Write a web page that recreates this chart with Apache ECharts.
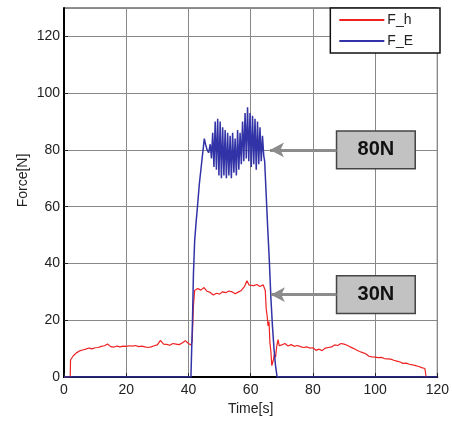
<!DOCTYPE html>
<html><head><meta charset="utf-8">
<script src="https://cdn.jsdelivr.net/npm/echarts@6/dist/echarts.min.js"></script>
<style>html,body{margin:0;padding:0;background:#fff}#c{width:452px;height:421px}</style>
</head><body><div id="c"></div>
<script>
// ---- data ----
const seriesNames = ['F_h', 'F_E'];
const xTicks = [0, 20, 40, 60, 80, 100, 120];
const yTicks = [0, 20, 40, 60, 80, 100, 120];

const fhTime = [0,2.0,2.1,3,4,5,6,7,8,9,10,11,12,13,14,15,16,17,18,19,20,21,22,23,24,25,26,27,28,29,30,31,32,33,34,35,36,37,38,39,40,40.8,41.2,41.6,42.0,43,44,45,46,47,48,49,50,51,52,53,54,55,56,57,58,58.8,59.5,60,61,62,63,64,64.7,65.0,65.3,65.6,65.9,66.2,66.5,66.8,67.0,67.3,67.6,68.0,68.4,68.8,69.2,70,71,72,73,74,75,76,77,78,79,80,81,82,83,84,85,86,87,88,89,90,91,92,93,94,95,96,97,98,99,100,101,102,103,104,105,106,107,108,109,110,111,112,113,114,115,116,116.4];
const fhValue = [0,0,6,7.5,8.5,9.2,9.5,9.8,10.2,9.9,10.3,10.4,10.8,11.0,11.6,10.7,10.5,10.9,10.6,10.9,10.8,11.0,10.9,11.1,10.7,10.9,10.6,10.4,10.6,11.0,11.3,12.9,11.6,11.5,11.2,11.8,11.6,11.4,12.0,12.8,11.8,11.3,12.5,25,30.5,31.2,30.6,31.5,30.2,29.8,28.9,29.5,29.2,30.0,29.7,30.3,30.0,29.3,29.9,30.5,31.8,33.9,32.4,33.0,32.2,32.6,31.9,32.5,30.5,24,21.5,18,19.5,12,9,4,3.5,6,8,7,11,13.2,11,11.3,11.8,10.9,11.4,10.8,11.1,10.7,10.4,10.6,10.2,10.3,9.4,9.8,9.3,10.2,10.4,10.6,11.3,11.1,11.8,11.6,11.2,10.6,10.1,9.5,9.0,8.6,8.2,7.3,7.1,7.0,6.8,6.9,6.5,6.4,6.3,5.9,5.6,5.3,4.8,4.9,4.5,4.3,4.0,3.7,3.3,3.0,0];

const feTime = [0,40.8,41.3,41.6,42.0,42.5,42.9,43.5,44.0,44.3,44.7,45.1,45.5,46.0,46.5,47.0,47.4,47.8,48.2,48.6,49.0,49.4,49.8,50.2,50.6,51.0,51.4,51.8,52.2,52.6,53.0,53.4,53.8,54.2,54.6,55.0,55.4,55.8,56.2,56.6,57.0,57.4,57.8,58.2,58.6,59.0,59.4,59.8,60.2,60.6,61.0,61.4,61.8,62.2,62.6,63.0,63.4,63.8,64.2,64.5,65.0,65.5,66.0,66.5,67.0,67.5,68.0,68.5,120];
const feValue = [0,0,20,36,48,55,60,68,73,76,80,84,82,80,79,82,77,86,74,90,73,91,71,90,70,88,71,87,70,86,71,85,70,86,72,84,71,87,73,86,75,90,76,93,77,95,76,93,74,92,75,91,73,90,75,88,76,85,78,76,64,52,41,28,18,10,4,0,0];

const annoLabels = ['80N', '30N'];
const annoValues = [80, 29];
const annoTipTime = [66.2, 66.5];

// ---- build ----
const pairs = (t, v) => t.map((x, i) => [x, v[i]]);
const boxLeft = 87.6, boxRight = 112.9, boxHalf = 6.65;

const chart = echarts.init(document.getElementById('c'), null, {renderer: 'canvas'});
const font = 'Liberation Sans, Arial, sans-serif';

chart.setOption({
  animation: false,
  backgroundColor: '#fff',
  grid: {left: 64, right: 12, top: 8, bottom: 41, show: true, borderColor: '#222', borderWidth: 1},
  legend: {
    orient: 'vertical', right: 12, top: 8,
    data: seriesNames,
    itemWidth: 45, itemHeight: 14, itemGap: 7,
    padding: [5, 27, 5, 8],
    itemStyle: {opacity: 0},
    backgroundColor: '#fff', borderColor: '#111', borderWidth: 1.5,
    textStyle: {fontFamily: font, fontSize: 14, color: '#222', padding: [0, 0, 0, -2]}
  },
  xAxis: {
    type: 'value', min: xTicks[0], max: xTicks[xTicks.length - 1], interval: 20,
    name: 'Time[s]', nameLocation: 'middle', nameGap: 25,
    nameTextStyle: {fontFamily: font, fontSize: 14, color: '#222'},
    axisLine: {show: true, onZero: false, lineStyle: {color: '#000', width: 2}},
    axisTick: {show: true, inside: true, length: 4, lineStyle: {color: '#222'}},
    axisLabel: {fontFamily: font, fontSize: 14, color: '#222', margin: 6},
    splitLine: {show: true, lineStyle: {color: '#888', width: 1}}
  },
  yAxis: {
    type: 'value', min: 0, max: 130, interval: 20,
    name: 'Force[N]', nameLocation: 'middle', nameGap: 34, nameMoveOverlap: false,
    nameTextStyle: {fontFamily: font, fontSize: 14, color: '#222', padding: [0, 0, 0, 24]},
    axisLine: {show: true, onZero: false, lineStyle: {color: '#000', width: 2}},
    axisTick: {show: true, inside: true, length: 4, lineStyle: {color: '#222'}},
    axisLabel: {fontFamily: font, fontSize: 14, color: '#222', margin: 4, showMaxLabel: false,
      formatter: v => (yTicks.indexOf(v) >= 0 ? String(v) : '')},
    splitLine: {show: true, lineStyle: {color: '#888', width: 1}}
  },
  series: [
    {
      name: seriesNames[0], type: 'line', symbol: 'none', data: pairs(fhTime, fhValue),
      lineStyle: {color: '#ee2222', width: 1.2}, itemStyle: {color: '#ee2222'}, z: 3
    },
    {
      name: seriesNames[1], type: 'line', symbol: 'none', data: pairs(feTime, feValue),
      lineStyle: {color: '#3333a8', width: 1.5}, itemStyle: {color: '#3333a8'}, z: 4,
      markLine: {
        silent: true, symbol: ['arrow', 'none'], symbolSize: [11, 14],
        lineStyle: {color: '#8c8c8c', width: 3, type: 'solid'},
        label: {show: false},
        data: annoValues.map((v, i) => [{coord: [annoTipTime[i], v]}, {coord: [boxLeft, v]}])
      },
      markArea: {
        silent: true,
        itemStyle: {color: '#c2c2c2', opacity: 1, borderColor: '#444', borderWidth: 1.5},
        label: {show: true, position: 'inside', fontFamily: font, fontWeight: 'bold', fontSize: 20, color: '#111'},
        data: annoValues.map((v, i) => [
          {name: annoLabels[i], coord: [boxLeft, v + boxHalf]},
          {coord: [boxRight, v - boxHalf]}
        ])
      }
    }
  ]
});
</script></body></html>
